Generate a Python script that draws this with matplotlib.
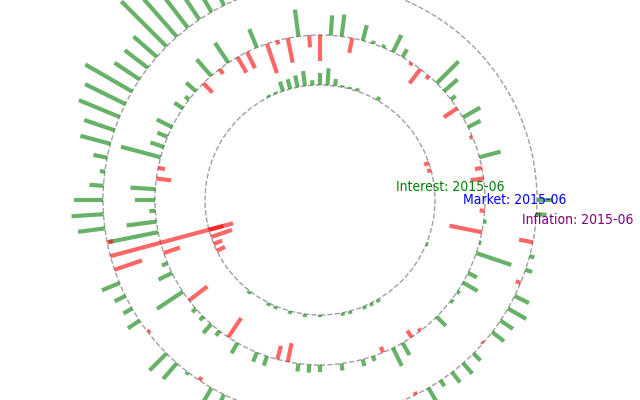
import numpy as np
import pandas as pd
import matplotlib
matplotlib.use("Agg")
import matplotlib.pyplot as plt
from matplotlib.patches import Circle

# monthly periods shown around each ring (96 months)
months = pd.period_range("2007-07", "2015-06", freq="M")

# inner ring: Interest (one value per month, positive = outward, negative = inward)
interest = [0, 0, 0, 0, -0.4, -0.5, 0, 0, 0, 0, 0, 0, 0, 0, 0, 0,
            0.4, 0, 0, 0.3, 0.2, 0.2, 0.7, 1.7, 1.2, 0.5, 1.5, 1.2, 1.0, 1.0, 0.2, 0.2,
            0, 0, 0, 0, 0, 0, 0, 0, 0, 0, 0, 0, 0, 0, 0, 0,
            0, 0, 0, 0, -1.5, -2.2, -0.9, -0.9, 0, 0, 0, 0, 0, 0, 0.3, 0,
            0, 0.3, 0.3, 0, 0.3, 0, 0.3, 0, 0.2, 0, 0, 0.3, 0.3, 0, 0.3, 0.3,
            0.3, 0, 0, 0, 0, 0, 0, 0, 0, 0, 0.2, 0, 0, 0, 0, 0]

# middle ring: Market
market = [0, 0, -1.3, -0.7, 2.2, 0, -0.3, 1.4, 2.0, -1.6, 0.6, 1.8, 3.1, -0.4, -1.8, -0.3,
          0.9, 1.9, 0.3, 0.3, 1.6, -1.5, 2.2, 2.0, -2.6, -1.2, 2.7, -2.5, -0.4, -3.1, 2.0, -1.8,
          -1.8, 2.4, -0.6, 2.2, -1.3, 1.3, 0.5, 1.0, 0, 1.7, 1.1, 1.4, 4.1, -0.7, -1.5, 2.5,
          2.0, 0.6, 3.0, 5.0, 0, -1.7, 0.6, 1.5, 0, 3.1, -2.3, 0.5, 0.5, 1.2, 0.6, -2.3,
          1.2, 0, 1.0, 1.0, -1.4, -1.9, 0.8, 0.8, 0.7, 0, 0.7, 0, 0.7, 0.5, -0.6, 2.0,
          1.4, -0.8, -0.3, 0, 1.3, 0, 0.3, 0.3, 1.7, 1.0, 0, 3.7, 0.2, -3.3, 0.3, -0.5]

# outer ring: Inflation
inflation = [1.6, 0, 0, 0, 0, 0, 0, 0, 0, 0, 0, 0, 0, 0, 0, 0,
             0, 0, 2.5, 3.0, 1.5, 4.0, 3.5, 2.0, 4.5, 3.0, 2.5, 5.0, 4.0, 3.5, 4.5, 3.0,
             3.5, 4.5, 5.0, 5.5, 6.4, 3.1, 2.9, 3.0, 5.4, 4.5, 4.4, 3.2, 3.1, 1.4, 0.5, 1.4,
             2.9, 3.2, 2.7, -0.6, -12.7, -2.9, 1.9, 1.2, 1.0, 1.4, -0.3, 0, 2.4, 2.1, 0.3, -0.4,
             1.6, 1.2, 1.5, 2.0, 1.0, 2.5, 1.8, 1.2, 2.2, 1.6, 0.8, 1.9, 1.4, 2.1, 1.0, -0.3,
             1.6, 0.7, 1.3, 1.4, 1.0, -0.2, 1.5, 1.5, 2.1, 1.6, -0.5, 0.7, 0.5, -1.4, 0, 1.0]

series_names = ["Interest", "Market", "Inflation"]
series_values = [interest, market, inflation]
label_colors = ["green", "blue", "purple"]

# layout
radii = [115, 165, 217]
scale = 10.0
label_pos = [(130, 9.3), (195, -4.0), (258, -24.0)]

fig = plt.figure(figsize=(6.4, 4.0), dpi=100)
ax = fig.add_axes([0, 0, 1, 1])
ax.set_xlim(-320, 320)
ax.set_ylim(-200, 200)
ax.set_aspect("equal")
ax.axis("off")

n = len(months)
theta = np.arange(n) * 2 * np.pi / n

for name, vals, r in zip(series_names, series_values, radii):
    ax.add_patch(Circle((0, 0), r, fill=False, ls="--", lw=1.0,
                        edgecolor="gray", alpha=0.75))
    for t, v in zip(theta, vals):
        if v == 0:
            continue
        r2 = r + v * scale
        ax.plot([r * np.cos(t), r2 * np.cos(t)], [r * np.sin(t), r2 * np.sin(t)],
                color="green" if v > 0 else "red", alpha=0.6, lw=3,
                solid_capstyle="butt")

for name, col, (lx, ly) in zip(series_names, label_colors, label_pos):
    ax.text(lx, ly, f"{name}: {months[-1]}", color=col, ha="center",
            va="baseline", fontsize=10, family="DejaVu Sans",
            fontstretch="condensed")

fig.savefig("out.png", dpi=100)
